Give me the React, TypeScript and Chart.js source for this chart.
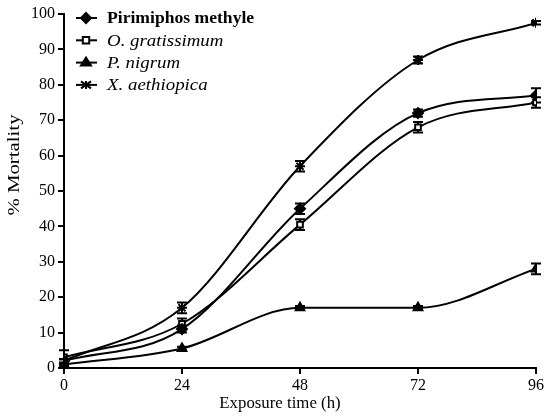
import React, { useEffect, useRef } from "react";
import { Chart, registerables } from "chart.js";
Chart.register(...registerables);

const hours = [0, 24, 48, 72, 96];
const seriesNames = ["Pirimiphos methyle", "O. gratissimum", "P. nigrum", "X. aethiopica"];
const pirimiphos = [2, 11, 45, 72, 77];
const pirimiphosErr = [0.5, 1, 1.5, 1, 2];
const ocimum = [3, 12.5, 40.5, 68, 75];
const ocimumErr = [2, 1.5, 1.5, 1.5, 1.5];
const piper = [1, 5.5, 17, 17, 28];
const piperErr = [0.5, 0.5, 0.5, 0.5, 1.5];
const xylopia = [2, 17, 57, 87, 97.5];
const xylopiaErr = [0.5, 1.5, 1.5, 1, 0.5];
const yTicks = [0, 10, 20, 30, 40, 50, 60, 70, 80, 90, 100];
const xTitle = "Exposure time (h)";
const yTitle = "% Mortality";

const serif = "'Liberation Serif', 'Times New Roman', serif";

const errs = [pirimiphosErr, ocimumErr, piperErr, xylopiaErr];
const styles: any[] = [
  { pointStyle: "rectRot", radius: 5, bg: "#000" },
  { pointStyle: "rect", radius: 4, bg: "#fff" },
  { pointStyle: "triangle", radius: 5, bg: "#000" },
  { pointStyle: "star", radius: 5, bg: "#000" },
];

const errorBarPlugin = {
  id: "errorBars",
  beforeDatasetsDraw(chart: any) {
    const ctx = chart.ctx;
    const xs = chart.scales.x;
    const ys = chart.scales.y;
    ctx.save();
    ctx.strokeStyle = "#000";
    ctx.lineWidth = 2;
    chart.data.datasets.forEach((ds: any, i: number) => {
      ds.data.forEach((p: any, j: number) => {
        const e = errs[i][j];
        const x = xs.getPixelForValue(p.x);
        const y1 = ys.getPixelForValue(p.y + e);
        const y2 = ys.getPixelForValue(Math.max(0, p.y - e));
        ctx.beginPath();
        ctx.moveTo(x, y1);
        ctx.lineTo(x, y2);
        ctx.moveTo(x - 5, y1);
        ctx.lineTo(x + 5, y1);
        ctx.moveTo(x - 5, y2);
        ctx.lineTo(x + 5, y2);
        ctx.stroke();
      });
    });
    ctx.restore();
  },
};

function stretchedText(ctx: any, text: string, x: number, y: number, sx: number, align: string) {
  ctx.save();
  ctx.translate(x, y);
  ctx.scale(sx, 1);
  ctx.textAlign = align;
  ctx.fillText(text, 0, 0);
  ctx.restore();
}

const textPlugin = {
  id: "customText",
  afterDraw(chart: any) {
    const ctx = chart.ctx;
    ctx.save();
    seriesNames.forEach((name, i) => {
      const y = 18 + i * 22.3;
      ctx.strokeStyle = "#000";
      ctx.lineWidth = 2;
      ctx.beginPath();
      ctx.moveTo(76, y);
      ctx.lineTo(97, y);
      ctx.stroke();
      const st = styles[i];
      drawMarker(ctx, st.pointStyle, 86, y, st.radius, st.bg);
      ctx.fillStyle = "#000";
      ctx.textBaseline = "middle";
      ctx.font = i === 0 ? `bold 16px ${serif}` : `italic 16px ${serif}`;
      stretchedText(ctx, name, 107, y + 1, i === 0 ? 1.1 : 1.18, "left");
    });
    // axis titles
    const xs = chart.scales.x;
    ctx.fillStyle = "#000";
    ctx.textBaseline = "middle";
    ctx.font = `16px ${serif}`;
    stretchedText(ctx, xTitle, (xs.left + xs.right) / 2 - 20, 404, 1.05, "center");
    ctx.save();
    ctx.translate(15, 165);
    ctx.rotate(-Math.PI / 2);
    ctx.font = `16px ${serif}`;
    stretchedText(ctx, yTitle, 0, 0, 1.3, "center");
    ctx.restore();
    ctx.restore();
  },
};

function drawMarker(ctx: any, style: string, x: number, y: number, r: number, bg: string) {
  ctx.save();
  ctx.fillStyle = bg;
  ctx.strokeStyle = "#000";
  ctx.lineWidth = 2;
  ctx.beginPath();
  if (style === "rectRot") {
    ctx.moveTo(x, y - r);
    ctx.lineTo(x + r, y);
    ctx.lineTo(x, y + r);
    ctx.lineTo(x - r, y);
    ctx.closePath();
    ctx.fill();
    ctx.stroke();
  } else if (style === "rect") {
    ctx.rect(x - r * 0.8, y - r * 0.8, r * 1.6, r * 1.6);
    ctx.fill();
    ctx.stroke();
  } else if (style === "triangle") {
    ctx.moveTo(x, y - r);
    ctx.lineTo(x + r, y + r * 0.6);
    ctx.lineTo(x - r, y + r * 0.6);
    ctx.closePath();
    ctx.fill();
    ctx.stroke();
  } else {
    ctx.moveTo(x - r, y - r * 0.7);
    ctx.lineTo(x + r, y + r * 0.7);
    ctx.moveTo(x - r, y + r * 0.7);
    ctx.lineTo(x + r, y - r * 0.7);
    ctx.moveTo(x, y - r * 0.8);
    ctx.lineTo(x, y + r * 0.8);
    ctx.stroke();
  }
  ctx.restore();
}

export default function App() {
  const ref = useRef<HTMLCanvasElement>(null);
  useEffect(() => {
    document.body.style.margin = "0";
    const all = [pirimiphos, ocimum, piper, xylopia];
    const chart = new Chart(ref.current!, {
      type: "line",
      data: {
        datasets: all.map((vals, i) => ({
          label: seriesNames[i],
          data: vals.map((v, j) => ({ x: hours[j], y: v })),
          borderColor: "#000",
          borderWidth: 2,
          backgroundColor: styles[i].bg,
          pointBorderColor: "#000",
          pointBorderWidth: 2,
          pointBackgroundColor: styles[i].bg,
          pointStyle: styles[i].pointStyle,
          pointRadius: styles[i].radius,
          cubicInterpolationMode: "monotone",
          fill: false,
        })),
      },
      options: {
        animation: false,
        responsive: false,
        maintainAspectRatio: false,
        layout: { padding: { top: 14, right: 10, left: 0, bottom: 0 } },
        plugins: { legend: { display: false }, tooltip: { enabled: false } },
        scales: {
          x: {
            type: "linear",
            min: 0,
            max: 96,
            afterFit: (s: any) => { s.height = 48; },
            afterBuildTicks: (s: any) => { s.ticks = hours.map((v) => ({ value: v })); },
            border: { color: "#000", width: 2 },
            grid: { display: true, drawOnChartArea: false, drawTicks: true, tickLength: 6, color: "#000", lineWidth: 2 },
            ticks: { color: "#000", font: { family: serif, size: 16 }, padding: 2, maxRotation: 0 },
            title: { display: false },
          },
          y: {
            min: 0,
            max: 100,
            afterFit: (s: any) => { s.width = 64; },
            afterBuildTicks: (s: any) => { s.ticks = yTicks.map((v) => ({ value: v })); },
            border: { color: "#000", width: 2 },
            grid: { display: true, drawOnChartArea: false, drawTicks: true, tickLength: 6, color: "#000", lineWidth: 2 },
            ticks: { color: "#000", font: { family: serif, size: 16 }, padding: 3 },
            title: { display: false },
          },
        },
      },
      plugins: [errorBarPlugin, textPlugin],
    } as any);
    return () => chart.destroy();
  }, []);
  return (
    <div style={{ position: "relative", width: 546, height: 416 }}>
      <canvas ref={ref} width={546} height={416} />
    </div>
  );
}
